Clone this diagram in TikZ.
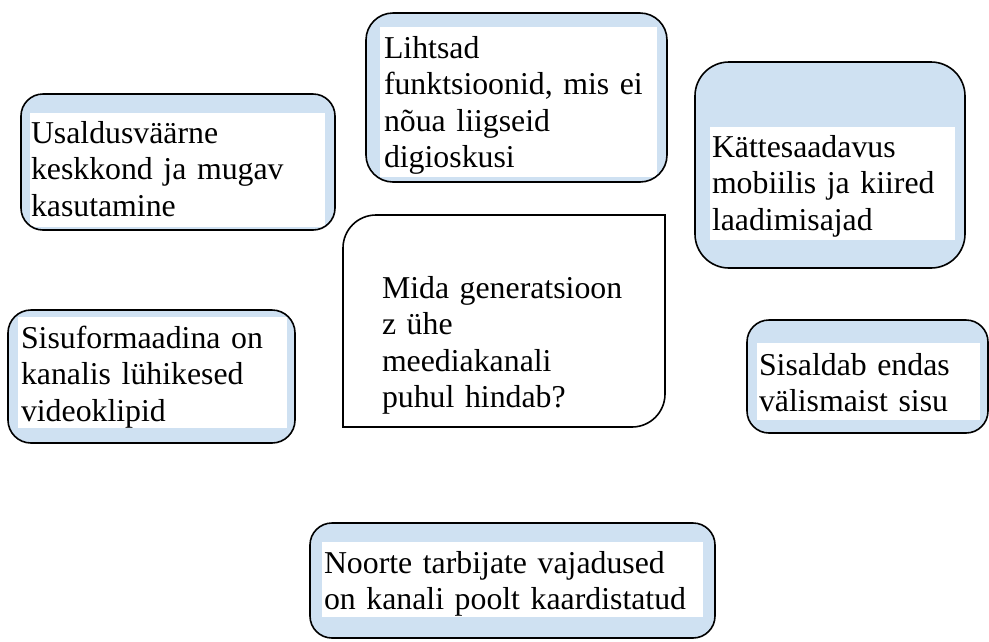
\documentclass[tikz,border=0pt]{standalone}
\usepackage{fontspec}
\setmainfont{Liberation Serif}
\definecolor{boxblue}{RGB}{207,225,242}
\begin{document}
\begin{tikzpicture}[x=1pt,y=1pt,
  bluebox/.style={fill=boxblue, draw=none, inner sep=0pt, outer sep=0pt, anchor=north west},
  boxline/.style={draw=black, line width=1.6pt},
  whitepad/.style={fill=white, draw=none, inner sep=0pt, outer sep=0pt, anchor=north west},
  label/.style={anchor=base west, inner sep=0pt, outer sep=0pt, text width=480pt, align=left,
    font=\fontsize{31.8}{36.6}\selectfont}]
\useasboundingbox (0,0) rectangle (989,-641);
\fill[white] (0,0) rectangle (989,-641);

% Box 1
\node[bluebox, rounded corners=22pt, minimum width=314pt, minimum height=136pt] (b1) at (21,-94) {};
\node[whitepad, minimum width=295pt, minimum height=114pt] (w1) at (30,-113) {};
\draw[boxline, rounded corners=22pt] (b1.north west) rectangle (b1.south east);
\node[label] (t1) at (31,-143) {Usaldusväärne\\keskkond ja mugav\\kasutamine};

% Box 2
\node[bluebox, rounded corners=27pt, minimum width=301pt, minimum height=169pt] (b2) at (366,-13) {};
\node[whitepad, minimum width=277pt, minimum height=150pt] (w2) at (380,-27) {};
\draw[boxline, rounded corners=27pt] (b2.north west) rectangle (b2.south east);
\node[label] (t2) at (384,-58) {Lihtsad\\funktsioonid, mis ei\\nõua liigseid\\digioskusi};

% Box 3
\node[bluebox, rounded corners=34pt, minimum width=270pt, minimum height=206pt] (b3) at (695,-62) {};
\node[whitepad, minimum width=245pt, minimum height=113pt] (w3) at (710,-127) {};
\draw[boxline, rounded corners=34pt] (b3.north west) rectangle (b3.south east);
\node[label] (t3) at (712,-157) {Kättesaadavus\\mobiilis ja kiired\\laadimisajad};

% Box 4
\node[bluebox, rounded corners=23pt, minimum width=287pt, minimum height=133pt] (b4) at (8,-310) {};
\node[whitepad, minimum width=269pt, minimum height=111pt] (w4) at (18,-317) {};
\draw[boxline, rounded corners=23pt] (b4.north west) rectangle (b4.south east);
\node[label] (t4) at (21,-348) {Sisuformaadina on\\kanalis lühikesed\\videoklipid};

% Box 5
\node[bluebox, rounded corners=22pt, minimum width=241pt, minimum height=113pt] (b5) at (747,-320) {};
\node[whitepad, minimum width=223pt, minimum height=77pt] (w5) at (757,-343) {};
\draw[boxline, rounded corners=22pt] (b5.north west) rectangle (b5.south east);
\node[label] (t5) at (759,-375) {Sisaldab endas\\välismaist sisu};

% Box 6
\node[bluebox, rounded corners=22pt, minimum width=405pt, minimum height=115pt] (b6) at (310,-523) {};
\node[whitepad, minimum width=381pt, minimum height=75pt] (w6) at (322,-542) {};
\draw[boxline, rounded corners=22pt] (b6.north west) rectangle (b6.south east);
\node[label] (t6) at (324,-573) {Noorte tarbijate vajadused\\on kanali poolt kaardistatud};

% Center box
\draw[boxline, fill=white] (343,-427) -- (343,-248) arc[start angle=180, end angle=90, radius=33]
  -- (665,-215) -- (665,-394) arc[start angle=0, end angle=-90, radius=33] -- cycle;
\node[label] (tc) at (382,-298) {Mida generatsioon\\z ühe\\meediakanali\\puhul hindab?};
\end{tikzpicture}
\end{document}
